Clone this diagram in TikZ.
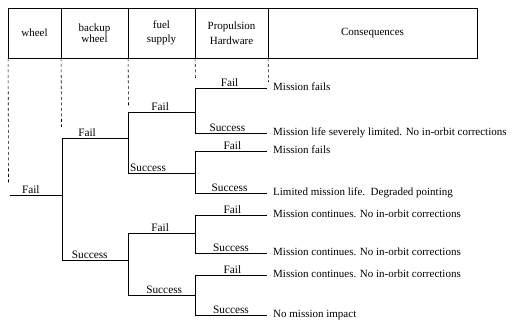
\documentclass[tikz,border=0pt]{standalone}
\usepackage{fontspec}
\setmainfont{Liberation Serif}

\begin{document}
\begin{tikzpicture}[x=1pt,y=-1pt,
    cell/.style={draw,line width=0.8pt,minimum height=50pt,inner sep=0pt,
      align=center,font=\fontsize{11}{14.5}\selectfont},
    guide/.style={line width=0.6pt,dash pattern=on 3pt off 2.5pt},
    branch/.style={line width=0.6pt},
    lbl/.style={anchor=south,inner sep=1.2pt,font=\fontsize{11.3}{13}\selectfont},
    outcome/.style={anchor=west,inner sep=0pt,xshift=6pt,text height=1.5ex,
      text depth=0.25ex,font=\fontsize{11}{13}\selectfont}]
    \useasboundingbox (0,0) rectangle (512,320);

    % column heads
    \node[cell,minimum width=53pt] (wheel) at (34.5,33) {wheel};
    \node[cell,minimum width=67pt] (backup) at (94.5,33) {\raisebox{-3pt}{backup}\\wheel};
    \node[cell,minimum width=67pt] (fuel) at (161.5,33) {fuel\\supply};
    \node[cell,minimum width=73pt] (prop) at (231.5,33) {Propulsion\\Hardware};
    \node[cell,minimum width=209pt] (cons) at (372.5,33) {\raisebox{3pt}{Consequences}};

    % dashed guides under the heads
    \coordinate (g1) at (8.5,183);
    \coordinate (g2) at (61.5,127);
    \coordinate (g3) at (128.5,107);
    \coordinate (g4) at (195.5,80);
    \coordinate (g5) at (268.5,82);
    \draw[guide] (wheel.south west) ++(0.5,0) -- (g1);
    \draw[guide] (backup.south west) ++(0.5,0) -- (g2);
    \draw[guide] (fuel.south west) ++(0.5,0) -- (g3);
    \draw[guide] (prop.south west) ++(0.5,0) -- (g4);
    \draw[guide] (cons.south west) ++(0.5,0) -- (g5);

    % wheel
    \coordinate (w0) at (10,195);
    \coordinate (w1) at (62,195);
    \draw[branch] (w0) -- node[lbl,pos=0.4] (wf) {Fail} (w1);

    % backup wheel
    \coordinate (bf0) at (62,138);
    \coordinate (bf1) at (128,138);
    \coordinate (bs0) at (62,260);
    \coordinate (bs1) at (128,260);
    \draw[branch] (bf1) -- node[lbl,pos=0.62] (bfl) {Fail} (bf0) -- (bs0)
        -- node[lbl,pos=0.42] (bsl) {Success} (bs1);

    % fuel supply
    \coordinate (ff0) at (128,112);
    \coordinate (ff1) at (195,112);
    \coordinate (fs0) at (128,173);
    \coordinate (fs1) at (195,173);
    \draw[branch] (ff1) -- node[lbl,pos=0.52] (ffl) {Fail} (ff0) -- (fs0)
        -- node[lbl,pos=0.3] (fsl) {Success} (fs1);
    \coordinate (gf0) at (128,233);
    \coordinate (gf1) at (195,233);
    \coordinate (gs0) at (128,295);
    \coordinate (gs1) at (195,295);
    \draw[branch] (gf1) -- node[lbl,pos=0.52] (gfl) {Fail} (gf0) -- (gs0)
        -- node[lbl,pos=0.54] (gsl) {Success} (gs1);

    % propulsion hardware
    \coordinate (p1f0) at (195,88);   \coordinate (p1f1) at (267,88);
    \coordinate (p1s0) at (195,133);  \coordinate (p1s1) at (267,133);
    \coordinate (p2f0) at (195,151);  \coordinate (p2f1) at (267,151);
    \coordinate (p2s0) at (195,193);  \coordinate (p2s1) at (267,193);
    \coordinate (p3f0) at (195,215);  \coordinate (p3f1) at (267,215);
    \coordinate (p3s0) at (195,253);  \coordinate (p3s1) at (267,253);
    \coordinate (p4f0) at (195,275);  \coordinate (p4f1) at (267,275);
    \coordinate (p4s0) at (195,315);  \coordinate (p4s1) at (267,315);
    \draw[branch] (p1f1) -- node[lbl,pos=0.52] (p1fl) {Fail} (p1f0) -- (p1s0)
        -- node[lbl,pos=0.45] (p1sl) {Success} (p1s1);
    \draw[branch] (p2f1) -- node[lbl,pos=0.48] (p2fl) {Fail} (p2f0) -- (p2s0)
        -- node[lbl,pos=0.48] (p2sl) {Success} (p2s1);
    \draw[branch] (p3f1) -- node[lbl,pos=0.48] (p3fl) {Fail} (p3f0) -- (p3s0)
        -- node[lbl,pos=0.5] (p3sl) {Success} (p3s1);
    \draw[branch] (p4f1) -- node[lbl,pos=0.48] (p4fl) {Fail} (p4f0) -- (p4s0)
        -- node[lbl,pos=0.5] (p4sl) {Success} (p4s1);

    % consequences
    \node[outcome] (c1) at (p1f1) {Mission fails};
    \node[outcome] (c2) at (p1s1) {Mission life severely limited. No in-orbit corrections};
    \node[outcome] (c3) at (p2f1) {Mission fails};
    \node[outcome] (c4) at (p2s1) {Limited mission life.\ \ Degraded pointing};
    \node[outcome] (c5) at (p3f1) {Mission continues. No in-orbit corrections};
    \node[outcome] (c6) at (p3s1) {Mission continues. No in-orbit corrections};
    \node[outcome] (c7) at (p4f1) {Mission continues. No in-orbit corrections};
    \node[outcome] (c8) at (p4s1) {No mission impact};
\end{tikzpicture}
\end{document}
